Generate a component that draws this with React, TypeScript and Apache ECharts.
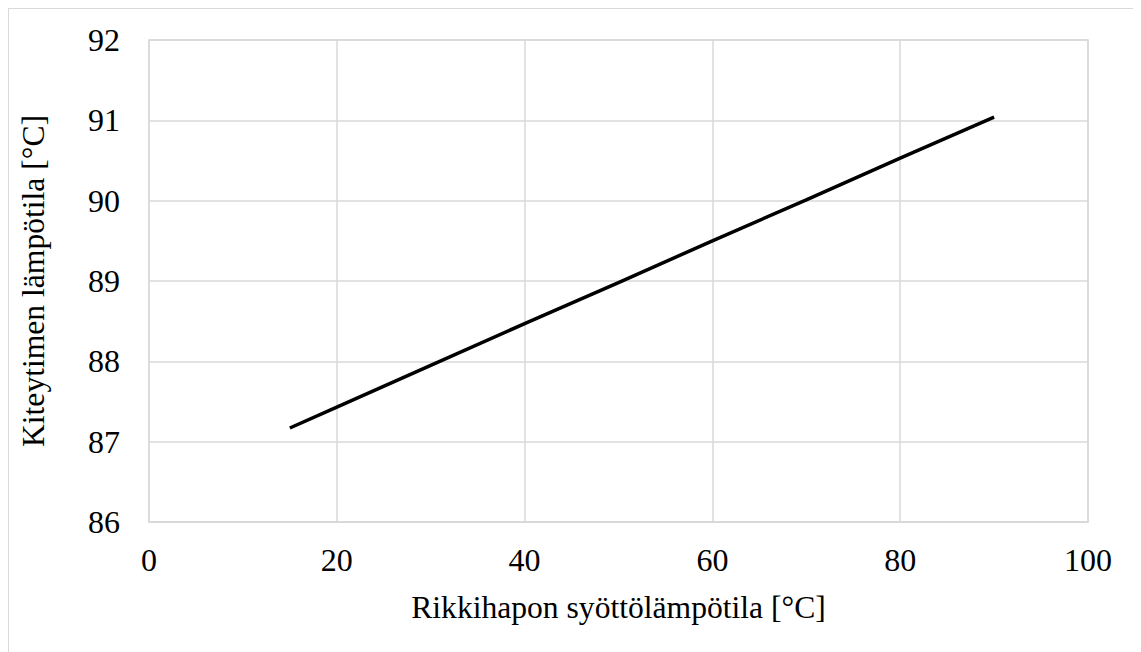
import React, { useEffect, useRef } from "react";
import * as echarts from "echarts";

const xValues = [15, 20, 30, 40, 50, 60, 70, 80, 90];
const yValues = [87.17, 87.43, 87.95, 88.47, 88.98, 89.5, 90.01, 90.53, 91.04];
const xTitle = "Rikkihapon syöttölämpötila [°C]";
const yTitle = "Kiteytimen lämpötila [°C]";

export default function App() {
  const ref = useRef<HTMLDivElement>(null);
  useEffect(() => {
    if (!ref.current) return;
    const chart = echarts.init(ref.current, undefined, { renderer: "svg" });
    const font = "'Liberation Serif', 'Times New Roman', serif";
    const fs = 32;
    chart.setOption({
      animation: false,
      textStyle: { fontFamily: font },
      grid: { left: 137, right: 59, top: 31, bottom: 135, containLabel: false, show: true, borderColor: "#d9d9d9", borderWidth: 1.5 },
      xAxis: {
        type: "value",
        min: 0,
        max: 100,
        interval: 20,
        name: xTitle,
        nameLocation: "middle",
        nameGap: 69,
        nameTextStyle: { fontFamily: font, fontSize: 31.6, color: "#000" },
        axisLine: { show: true, lineStyle: { color: "#d9d9d9", width: 1.5 } },
        axisTick: { show: false },
        axisLabel: { fontFamily: font, fontSize: fs, color: "#000", margin: 22 },
        splitLine: { show: true, lineStyle: { color: "#d9d9d9", width: 1.5 } },
      },
      yAxis: {
        type: "value",
        min: 86,
        max: 92,
        interval: 1,
        name: yTitle,
        nameLocation: "middle",
        nameGap: 100,
        nameTextStyle: { fontFamily: font, fontSize: 31.6, color: "#000" },
        axisLine: { show: false },
        axisTick: { show: false },
        axisLabel: { fontFamily: font, fontSize: fs, color: "#000", margin: 29 },
        splitLine: { show: true, lineStyle: { color: "#d9d9d9", width: 1.5 } },
      },
      series: [
        {
          type: "line",
          data: xValues.map((x, i) => [x, yValues[i]]),
          showSymbol: false,
          lineStyle: { color: "#000", width: 3.5 },
        },
      ],
    });
    return () => chart.dispose();
  }, []);
  return (
    <div
      ref={ref}
      style={{ width: 1140, height: 650, border: "1px solid #d9d9d9", boxSizing: "border-box", background: "#fff" }}
    />
  );
}
